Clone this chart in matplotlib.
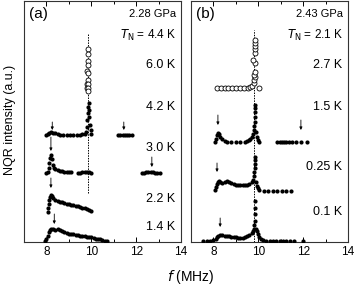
import matplotlib
matplotlib.use("Agg")
import matplotlib.pyplot as plt
from matplotlib.ticker import MultipleLocator
import numpy as np

plt.rcParams['font.family'] = ['Liberation Sans', 'DejaVu Sans']

# ---------------- Panel (a) 2.28 GPa ----------------
a_14_f = [7.95, 8.0, 8.05, 8.1, 8.15, 8.2, 8.3, 8.4, 8.5, 8.6, 8.7, 8.8, 8.9, 9.0, 9.1, 9.2, 9.3, 9.4,
          9.5, 9.6, 9.7, 9.8, 9.9, 10.0, 10.1, 10.2, 10.3, 10.4, 10.5, 10.6, 10.7]
a_14_i = [0, 2, 5, 9, 11, 12, 12, 11.5, 12, 11, 10, 9, 8, 7.5, 7, 7, 6, 6, 5.5, 5, 5, 4.5, 4.5, 4,
          3, 2.5, 2.5, 2, 1, 0.5, 0]
a_22_f = [8.05, 8.08, 8.1, 8.12, 8.15, 8.2, 8.25, 8.3, 8.4, 8.5, 8.6, 8.7, 8.8, 8.9, 9.0, 9.1, 9.2,
          9.3, 9.4, 9.5, 9.6, 9.7, 9.8, 9.9, 10.0]
a_22_i = [0, 4, 8, 12, 15, 17, 16, 14, 12, 11, 10.5, 10, 9, 8.5, 8, 7.5, 7, 6.5, 6, 5, 4.5, 4, 3, 2, 1]
a_30_f = [8.0, 8.05, 8.1, 8.12, 8.15, 8.2, 8.25, 8.3, 8.35, 8.4, 8.5, 8.6, 8.7, 8.8, 8.9, 9.0, 9.1,
          9.4, 9.5, 9.6, 9.7, 9.8, 9.9, 10.0,
          12.25, 12.35, 12.45, 12.55, 12.65, 12.75, 12.85, 12.95, 13.05]
a_30_i = [0, 1, 5, 10, 15, 18, 14, 8, 5, 4, 3, 2, 2, 1.5, 1.5, 1, 1,
          0.5, 0.5, 1, 1, 1.5, 1, 0.5,
          0.5, 0.5, 1, 1, 1, 1, 0.5, 0.5, 0]
a_42_f = [8.0, 8.05, 8.1, 8.2, 8.3, 8.4, 8.5, 8.6, 8.75, 8.9, 9.05, 9.2, 9.35, 9.5, 9.6, 9.7, 9.75,
          9.8, 9.82, 9.84, 9.86, 9.88, 9.9, 9.92, 9.95, 9.98, 10.0,
          11.2, 11.3, 11.4, 11.5, 11.6, 11.7, 11.8]
a_42_i = [0, 1, 2, 3, 2.5, 2, 1, 0, 0, 0, 0, 0, 0.5, 0.5, 1, 1, 3,
          8, 15, 22, 28, 32, 25, 18, 10, 5, 1,
          0, 0.5, 0.5, 0.5, 0.5, 0, 0]
a_60_f = [9.84, 9.84, 9.84, 9.84, 9.82, 9.86, 9.84, 9.80, 9.86, 9.80, 9.86, 9.84]
a_60_i = [43, 38, 31, 27, 21, 19, 12, 8, 8, 4, 4, 1]
a_offsets = [1, 30, 69, 107, 150]
a_labels = ["1.4 K", "2.2 K", "3.0 K", "4.2 K", "6.0 K"]
a_label_y = [15, 43, 94, 135, 177]
a_arrows = [(8.35, 28, 18), (8.2, 64, 54), (8.2, 105, 91), (12.7, 85, 75), (8.26, 120, 112), (11.45, 120, 112)]

# ---------------- Panel (b) 2.43 GPa ----------------
b_01_f = [7.55, 7.7, 7.85, 8.0, 8.1, 8.15, 8.2, 8.3, 8.4, 8.5, 8.6, 8.7, 8.8, 8.9, 9.0, 9.1, 9.2, 9.3,
          9.4, 9.5, 9.6, 9.7, 9.75, 9.8, 9.83, 9.84, 9.85, 9.86, 9.85, 9.9, 9.95, 10.0, 10.05, 10.1,
          10.2, 10.35, 10.5, 10.65, 10.8, 10.95, 11.1, 11.25, 11.4, 11.6, 12.0]
b_01_i = [0, 0, 0.5, 1, 2, 4, 5, 6, 6, 5.5, 5, 5, 4.5, 4, 4, 3.5, 3.5, 3.5,
          4, 5, 6, 8, 10, 12, 16, 20, 27, 33, 40, 12, 10, 7, 4, 2,
          1, 0.5, 0.5, 0.5, 0.5, 0.5, 0.5, 0.5, 0.5, 0.5, 0.5]
b_025_f = [8.05, 8.1, 8.15, 8.2, 8.25, 8.3, 8.4, 8.5, 8.6, 8.7, 8.8, 8.9, 9.0, 9.1, 9.2, 9.3, 9.4,
           9.5, 9.6, 9.7, 9.75, 9.8, 9.82, 9.84, 9.85, 9.86, 9.87, 9.9, 9.95, 10.0, 10.05,
           10.25, 10.45, 10.65, 10.85, 11.05, 11.25, 11.45]
b_025_i = [0, 3, 6, 8, 9, 8, 7, 8, 9, 8, 7, 6, 5.5, 5, 5, 5, 5,
           5.5, 6, 8, 10, 14, 18, 22, 26, 30, 33, 8, 4, 2, 0.5,
           -1, -1, -1, -1, -1, -1, -1]
b_15_f = [8.05, 8.1, 8.15, 8.2, 8.25, 8.3, 8.4, 8.5, 8.6, 8.8, 9.0, 9.2, 9.4, 9.5, 9.6, 9.65, 9.7,
          9.75, 9.8, 9.82, 9.84, 9.85, 9.86, 9.87, 9.86, 9.9, 9.95, 10.0, 10.05,
          10.85, 10.95, 11.05, 11.15, 11.25, 11.35, 11.5, 11.7, 11.9, 12.15]
b_15_i = [0, 3, 7, 9, 8, 5, 3, 1, 0, 0, 0, 0, 0, 1, 2, 3, 5,
          8, 12, 16, 20, 25, 30, 34, 37, 10, 5, 2, 0,
          0, 0, 0, 0.5, 0.5, 0, 0, 0.5, 0.5, 0]
b_27_f = [8.15, 8.32, 8.5, 8.67, 8.85, 9.02, 9.2, 9.37, 9.55, 9.64, 9.72, 9.8, 10.04, 9.82, 9.86,
          9.8, 9.86, 9.84, 9.78, 9.84, 9.84, 9.86, 9.84, 9.84]
b_27_i = [0, 0, 0, 0, 0, 0, 0, 0, 0, 1, 2, 5, 0.5, 8, 11, 13, 16, 25, 28, 35, 39, 42, 45, 48]
b_offsets = [1, 52, 100, 154]
b_labels = ["0.1 K", "0.25 K", "1.5 K", "2.7 K"]
b_label_y = [30, 75, 135, 177]
b_arrows = [(8.3, 24, 15), (8.16, 79, 70), (8.2, 127, 117), (11.9, 122, 112)]

headers = [("(a)", "2.28 GPa", r"$T_{\rm N}$ = 4.4 K"), ("(b)", "2.43 GPa", r"$T_{\rm N}$ = 2.1 K")]
peak_f = 9.86
dash_range = [(49, 209), (54, 212)]

fig = plt.figure(figsize=(3.54, 2.85), dpi=100)
W, H = 354, 285
axA = fig.add_axes([24 / W, 1 - 242 / H, 157 / W, 241 / H])
axB = fig.add_axes([191 / W, 1 - 242 / H, 157 / W, 241 / H])

ms_fill = 3.0
ms_open = 3.6

def style(ax):
    ax.set_xlim(7, 14)
    ax.set_ylim(0, 241)
    ax.xaxis.set_minor_locator(MultipleLocator(1))
    ax.set_xticks([8, 10, 12, 14])
    ax.set_yticks([])
    ax.tick_params(axis='x', which='both', direction='in', top=True, bottom=True,
                   labelsize=8.5, width=0.7, pad=3)
    ax.tick_params(axis='x', which='major', length=3.5)
    ax.tick_params(axis='x', which='minor', length=2.5)
    for s in ax.spines.values():
        s.set_linewidth(0.8)
        s.set_color('#333333')

def arrow(ax, f, y0, y1):
    ax.annotate("", xy=(f, y1), xytext=(f, y0),
                arrowprops=dict(arrowstyle='-|>', lw=0.6, color='black', mutation_scale=4,
                                shrinkA=0, shrinkB=0))

# panel a
series_a = [(a_14_f, a_14_i), (a_22_f, a_22_i), (a_30_f, a_30_i), (a_42_f, a_42_i)]
axA.plot([peak_f, peak_f], dash_range[0], ls=(0, (1.5, 1.2)), lw=0.7, color='black', zorder=1)
for (f, i), off in zip(series_a, a_offsets[:4]):
    axA.plot(f, np.array(i) + off, 'o', color='black', ms=ms_fill, mew=0, zorder=3)
axA.plot(a_60_f, np.array(a_60_i) + a_offsets[4], 'o', mfc='white', mec='black', ms=ms_open,
         mew=0.6, zorder=3)
for lab, y in zip(a_labels, a_label_y):
    axA.text(13.75, y, lab, ha='right', va='center', fontsize=9)
for f, y0, y1 in a_arrows:
    arrow(axA, f, y0, y1)

# panel b
series_b = [(b_01_f, b_01_i), (b_025_f, b_025_i), (b_15_f, b_15_i)]
axB.plot([peak_f - 0.04, peak_f - 0.04], dash_range[1], ls=(0, (1.5, 1.2)), lw=0.7, color='black', zorder=1)
axB.plot([peak_f - 0.04, peak_f - 0.04], [0, 54], ls=(0, (1.5, 1.2)), lw=0.7, color='black', zorder=1)
for (f, i), off in zip(series_b, b_offsets[:3]):
    axB.plot(f, np.array(i) + off, 'o', color='black', ms=ms_fill, mew=0, zorder=3)
axB.plot(b_27_f, np.array(b_27_i) + b_offsets[3], 'o', mfc='white', mec='black', ms=ms_open,
         mew=0.6, zorder=3)
for lab, y in zip(b_labels, b_label_y):
    axB.text(13.75, y, lab, ha='right', va='center', fontsize=9)
for f, y0, y1 in b_arrows:
    arrow(axB, f, y0, y1)

for ax, (p, g, t) in zip([axA, axB], headers):
    style(ax)
    ax.text(0.03, 0.975, p, transform=ax.transAxes, ha='left', va='top', fontsize=11)
    ax.text(0.97, 0.965, g, transform=ax.transAxes, ha='right', va='top', fontsize=8)
    ax.text(0.97, 0.855, t, transform=ax.transAxes, ha='right', va='center', fontsize=8.5)

fig.text(191 / W, 1 - 277 / H, r"$f$ (MHz)", ha='center', va='center', fontsize=10)
fig.text(10 / W, 1 - 120 / H, "NQR intensity (a.u.)", ha='center', va='center', rotation=90,
         fontsize=9)

fig.savefig("out.png", dpi=100)
